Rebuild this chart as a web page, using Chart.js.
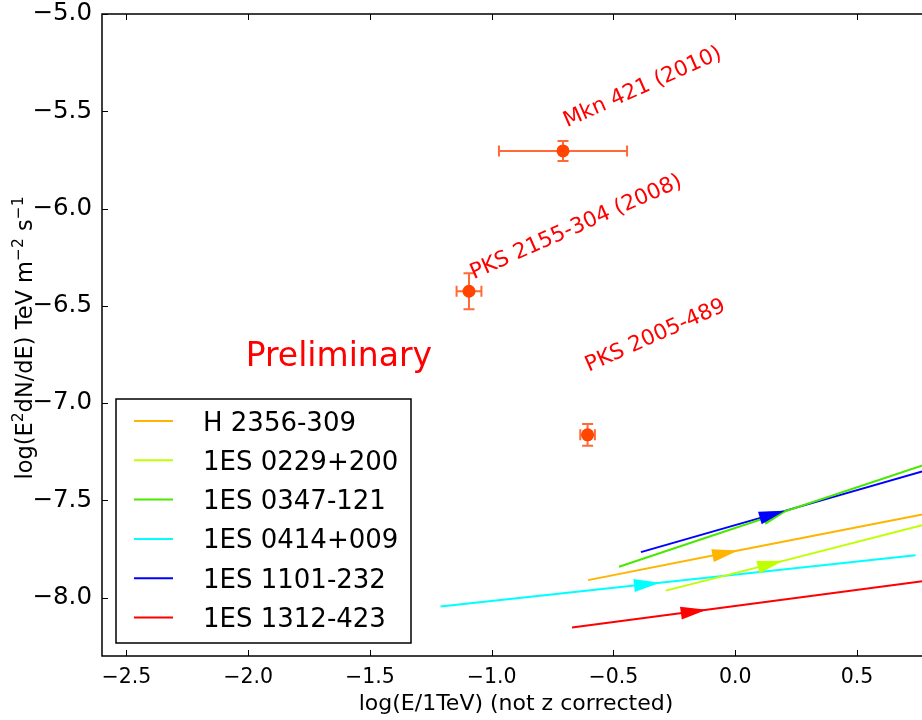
<!DOCTYPE html>
<html>
<head>
<meta charset="utf-8">
<script src="https://cdn.jsdelivr.net/npm/chart.js@4.4.0/dist/chart.umd.min.js"></script>
<style>
html,body{margin:0;padding:0;overflow:hidden;background:#fff;}
#wrap{width:922px;height:720px;overflow:hidden;position:relative;}
canvas{display:block;}
</style>
</head>
<body>
<div id="wrap"><canvas id="c" width="960" height="720" style="width:960px;height:720px"></canvas></div>
<script>
// ---- data ----
const lineNames = ['H 2356-309','1ES 0229+200','1ES 0347-121','1ES 0414+009','1ES 1101-232','1ES 1312-423'];
const lineColors = ['#FFB400','#BFFF00','#48E800','#00FFFF','#0000FF','#FF0000'];
const lineStartX = [-0.604, -0.285, -0.477, -1.210, -0.387, -0.670];
const lineStartY = [-7.910, -7.964, -7.841, -8.045, -7.766, -8.154];
const arrowX     = [ 0.012,  0.197,  0.218, -0.309,  0.204, -0.117];
const arrowY     = [-7.758, -7.811, -7.551, -7.923, -7.554, -8.062];
const lineEndX   = [ 0.800,  0.800,  0.800,  0.741,  0.800,  0.800];
const lineEndY   = [-7.565, -7.618, -7.308, -7.782, -7.340, -7.910];

const srcNames = ['Mkn 421 (2010)','PKS 2155-304 (2008)','PKS 2005-489'];
const srcX     = [-0.707, -1.093, -0.606];
const srcY     = [-5.704, -6.425, -7.163];
const srcXErr  = [0.263, 0.051, 0.030];
const srcYErr  = [0.051, 0.092, 0.056];
const labelX   = [-0.691, -1.074, -0.601];
const labelY   = [-5.582, -6.363, -6.839];

const prelimText = 'Preliminary';
const prelimX = -2.01, prelimY = -6.807;

const xTicks = [-2.5,-2.0,-1.5,-1.0,-0.5,0.0,0.5];
const yTicks = [-8.0,-7.5,-7.0,-6.5,-6.0,-5.5,-5.0];
const xTitle = 'log(E/1TeV) (not z corrected)';
const yTitleParts = [['log(E',0],['2',1],['dN/dE) TeV m',0],['\u22122',1],[' s',0],['\u22121',1]];

const FONT = "'DejaVu Sans', sans-serif";
const fmt = v => (v < 0 ? '\u2212' : '') + Math.abs(v).toFixed(1);

// ---- datasets ----
const datasets = lineNames.map((n,i) => ({
  type: 'line',
  label: n,
  data: [{x:lineStartX[i],y:lineStartY[i]},{x:arrowX[i],y:arrowY[i]},{x:lineEndX[i],y:lineEndY[i]}],
  borderColor: lineColors[i],
  backgroundColor: lineColors[i],
  borderWidth: 2,
  pointRadius: 0,
  showLine: true,
  tension: 0,
  order: 2
}));
datasets.push({
  type: 'scatter',
  label: 'sources',
  data: srcX.map((x,i)=>({x:x,y:srcY[i]})),
  backgroundColor: '#FF4500',
  borderWidth: 0,
  pointRadius: 6.5,
  order: 1
});

const decorPlugin = {
  id: 'decor',
  beforeDatasetsDraw(chart) {
    const {ctx, scales:{x,y}} = chart;
    ctx.save();
    ctx.strokeStyle = 'rgba(255,80,20,0.85)';
    ctx.lineWidth = 2;
    srcX.forEach((sx,i) => {
      const px = x.getPixelForValue(sx), py = y.getPixelForValue(srcY[i]);
      const xl = x.getPixelForValue(sx - srcXErr[i]), xr = x.getPixelForValue(sx + srcXErr[i]);
      const yt = y.getPixelForValue(srcY[i] + srcYErr[i]), yb = y.getPixelForValue(srcY[i] - srcYErr[i]);
      const c = 5.5;
      ctx.beginPath();
      ctx.moveTo(xl,py); ctx.lineTo(xr,py);
      ctx.moveTo(xl,py-c); ctx.lineTo(xl,py+c);
      ctx.moveTo(xr,py-c); ctx.lineTo(xr,py+c);
      ctx.moveTo(px,yt); ctx.lineTo(px,yb);
      ctx.moveTo(px-c,yt); ctx.lineTo(px+c,yt);
      ctx.moveTo(px-c,yb); ctx.lineTo(px+c,yb);
      ctx.stroke();
    });
    ctx.restore();
  },
  afterDatasetsDraw(chart) {
    const {ctx, chartArea:a, scales:{x,y}} = chart;
    // arrowheads
    ctx.save();
    lineNames.forEach((n,i) => {
      const tx = x.getPixelForValue(arrowX[i]), ty = y.getPixelForValue(arrowY[i]);
      const sx = x.getPixelForValue(lineStartX[i]), sy = y.getPixelForValue(lineStartY[i]);
      const ang = Math.atan2(ty - sy, tx - sx);
      const L = 26, W = 6.5;
      const bx = tx - L*Math.cos(ang), by = ty - L*Math.sin(ang);
      ctx.fillStyle = lineColors[i];
      ctx.beginPath();
      ctx.moveTo(tx,ty);
      ctx.lineTo(bx - W*Math.sin(ang), by + W*Math.cos(ang));
      ctx.lineTo(bx + W*Math.sin(ang), by - W*Math.cos(ang));
      ctx.closePath();
      ctx.fill();
    });
    ctx.restore();

    // annotations
    ctx.save();
    ctx.fillStyle = '#FF0000';
    ctx.font = '21.5px ' + FONT;
    ctx.textBaseline = 'alphabetic';
    ctx.textAlign = 'left';
    srcNames.forEach((t,i) => {
      ctx.save();
      ctx.translate(x.getPixelForValue(labelX[i]), y.getPixelForValue(labelY[i]));
      ctx.rotate(-24*Math.PI/180);
      ctx.fillText(t,0,0);
      ctx.restore();
    });
    ctx.font = '33px ' + FONT;
    ctx.fillText(prelimText, x.getPixelForValue(prelimX), y.getPixelForValue(prelimY));
    ctx.restore();

    // frame + inward ticks
    ctx.save();
    ctx.strokeStyle = '#000';
    ctx.lineWidth = 1.5;
    ctx.strokeRect(a.left, a.top, a.right - a.left, a.bottom - a.top);
    ctx.lineWidth = 1;
    ctx.beginPath();
    xTicks.forEach(v => {
      const p = Math.round(x.getPixelForValue(v)) + 0.5;
      ctx.moveTo(p, a.bottom); ctx.lineTo(p, a.bottom - 6);
      ctx.moveTo(p, a.top); ctx.lineTo(p, a.top + 6);
    });
    yTicks.forEach(v => {
      const p = Math.round(y.getPixelForValue(v)) + 0.5;
      ctx.moveTo(a.left, p); ctx.lineTo(a.left + 6, p);
      ctx.moveTo(a.right, p); ctx.lineTo(a.right - 6, p);
    });
    ctx.stroke();
    ctx.restore();

    // legend
    ctx.save();
    const lx = a.left + 14, ly = a.top + 385, lw = 295, lh = 244;
    ctx.fillStyle = '#fff';
    ctx.fillRect(lx, ly, lw, lh);
    ctx.strokeStyle = '#000';
    ctx.lineWidth = 1.5;
    ctx.strokeRect(lx, ly, lw, lh);
    ctx.font = '26px ' + FONT;
    ctx.textBaseline = 'alphabetic';
    ctx.fillStyle = '#000';
    lineNames.forEach((n,i) => {
      const cy = ly + 22 + i*39.3;
      ctx.strokeStyle = lineColors[i];
      ctx.lineWidth = 2;
      ctx.beginPath();
      ctx.moveTo(lx + 18, cy); ctx.lineTo(lx + 57, cy);
      ctx.stroke();
      ctx.fillText(n, lx + 87, cy + 9.5);
    });
    ctx.restore();

    // axis titles
    ctx.save();
    ctx.fillStyle = '#000';
    ctx.font = '22px ' + FONT;
    ctx.textAlign = 'center';
    ctx.textBaseline = 'alphabetic';
    ctx.fillText(xTitle, (a.left + a.right)/2, 710);
    const big = '22.5px ' + FONT, small = '15.5px ' + FONT;
    let total = 0;
    yTitleParts.forEach(([t,s]) => { ctx.font = s ? small : big; total += ctx.measureText(t).width; });
    ctx.translate(32, 338);
    ctx.rotate(-Math.PI/2);
    ctx.textAlign = 'left';
    let cx = -total/2;
    yTitleParts.forEach(([t,s]) => {
      ctx.font = s ? small : big;
      ctx.fillText(t, cx, s ? -9 : 0);
      cx += ctx.measureText(t).width;
    });
    ctx.restore();
  }
};

new Chart(document.getElementById('c'), {
  type: 'scatter',
  data: { datasets },
  options: {
    responsive: false,
    animation: false,
    events: [],
    layout: { padding: { top: 14, right: 30, left: 0, bottom: 0 } },
    plugins: { legend: { display: false }, tooltip: { enabled: false } },
    scales: {
      x: {
        type: 'linear', min: -2.6, max: 0.8,
        afterBuildTicks: s => { s.ticks = xTicks.map(v => ({value: v})); },
        afterFit: s => { s.height = 64; s.paddingLeft = 0; s.paddingRight = 0; },
        grid: { display: false, drawTicks: false },
        border: { display: false },
        ticks: { color: '#000', font: { family: FONT, size: 20.5 }, padding: 9, maxRotation: 0, autoSkip: false, callback: fmt }
      },
      y: {
        type: 'linear', min: -8.3, max: -5.0,
        afterBuildTicks: s => { s.ticks = yTicks.map(v => ({value: v})); },
        afterFit: s => { s.width = 102; s.paddingTop = 0; s.paddingBottom = 0; },
        grid: { display: false, drawTicks: false },
        border: { display: false },
        ticks: { color: '#000', font: { family: FONT, size: 24.5 }, padding: 10, autoSkip: false, callback: fmt }
      }
    }
  },
  plugins: [decorPlugin]
});
</script>
</body>
</html>
